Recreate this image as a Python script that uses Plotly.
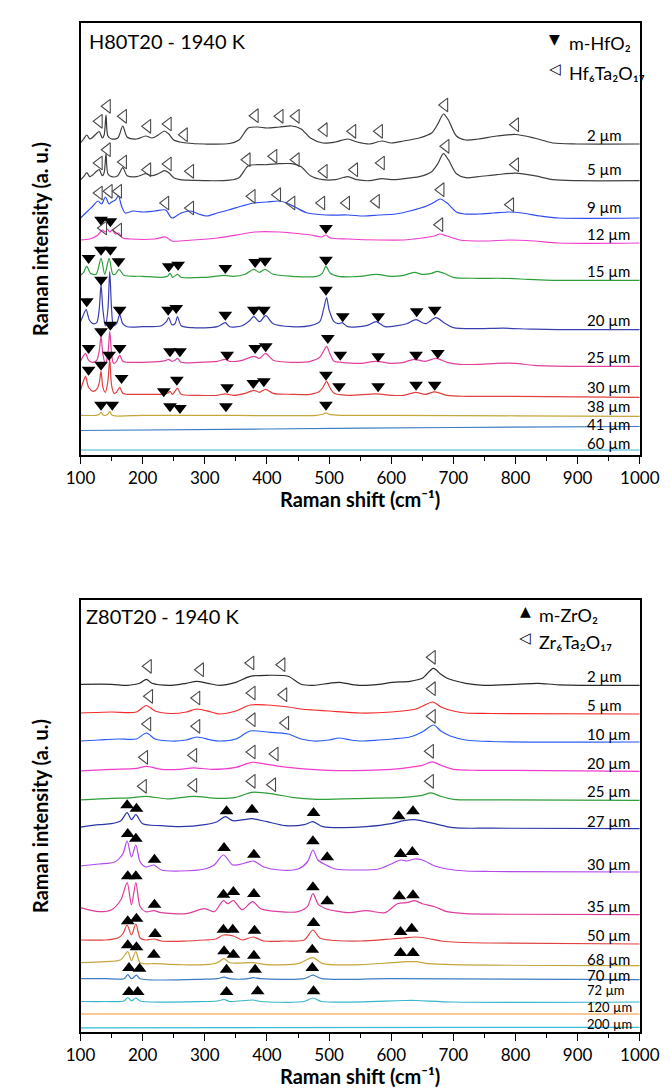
import plotly.graph_objects as go

# ================= DATA =================
# Intensities are given as height above each spectrum's own (right-end) baseline;
# each spectrum is then shifted by its stacking offset (a. u.).

# ---------- Top panel : H80T20 - 1940 K ----------
H_names = ["2 µm", "5 µm", "9 µm", "12 µm", "15 µm", "20 µm", "25 µm", "30 µm", "38 µm", "41 µm", "60 µm"]
H_offsets = [311, 274.3, 237, 212, 174.7, 125.3, 88.7, 57.7, 38.7, 28, 5]

H_2 = [(100,1),(105,5),(110,9),(115,5),(120,7),(125,10),(130,12.5),(135,6),(138,9),(141,29),(144,8),(150,5),
       (160,6),(168,18),(175,7),(190,5),(205,8),(215,6),(225,9),(235,13),(242,10),(250,4),(260,2),(270,1),
       (300,0),(340,0.5),(355,4),(370,16),(385,17),(400,16),(420,17),(440,18),(455,15),(470,6),(490,1),
       (510,2),(530,5),(545,2),(565,0),(585,3),(600,1),(620,3),(645,6),(665,11),(675,20),(684,30),(692,24),
       (705,8),(720,4),(740,5),(770,8),(800,9.5),(830,6),(860,1),(900,0),(1000,0)]
H_5 = [(100,1),(105,4),(110,8),(115,4),(120,6),(125,9),(130,11),(135,5),(138,8),(141,27),(144,7),(150,4),
       (160,5),(168,13),(175,5),(190,4),(205,7),(215,5),(225,7),(235,10),(242,8),(250,3),(260,1),(270,0.5),
       (300,0),(340,0.5),(355,3),(370,15),(385,16),(400,16),(420,17),(440,17),(455,14),(470,5),(490,1),
       (510,1),(530,4),(545,1),(565,0),(585,2),(600,1),(620,2),(645,4),(665,9),(675,17),(684,27),(692,21),
       (705,7),(720,3),(740,4),(770,6),(800,7.5),(830,5),(860,1),(900,0),(1000,0)]
H_9 = [(100,0),(110,6),(120,12),(128,17),(134,14),(140,21),(146,14),(150,16),(156,18),(161,22),(166,12),
       (172,5),(185,7),(200,6),(220,7),(237,8),(247,0),(262,5),(277,7),(290,4),(303,2),(320,5),(338,8),
       (360,12),(379,15),(400,16),(419,17),(432,15),(445,11),(465,5),(495,3),(530,3),(556,2),(580,3),
       (607,4),(630,7),(657,12),(670,16),(679,19),(690,15),(705,6),(718,4),(740,4),(765,5),(789,6),
       (810,5),(840,2),(870,0),(1000,0)]
H_12 = [(100,3),(115,4),(128,8),(135,13),(140,11),(143,14),(147,11),(151,13),(156,9),(161,10),(168,5),
        (180,4),(220,4),(237,6),(247,2),(280,3),(320,5),(360,9),(380,11),(420,11),(440,10),(470,8),(488,6),
        (495,8),(502,5),(530,4),(580,3),(620,3),(650,5),(670,7),(678,9),(690,7),(710,3),(750,2),(790,3),
        (830,2),(870,0),(1000,0)]
H_15 = [(100,5),(105,8),(110,14),(116,7),(125,6),(133,22),(139,6),(146,22),(152,6),(156,6),(162,11),
        (170,5),(200,4),(230,3),(240,4),(244,7),(248,3),(256,6),(262,3),(300,3),(333,5),(345,4),(365,6),
        (379,11),(388,8),(397,11),(410,6),(440,4),(480,4),(489,7),(495,14),(502,7),(515,4),(550,4),(576,6),
        (600,4),(620,5),(637,8),(650,6),(665,7),(674,9),(685,7),(700,3),(740,2),(780,2),(820,1),(860,0),(1000,0)]
H_20 = [(100,8),(104,14),(109,20),(114,10),(120,6),(126,7),(130,20),(133,45),(136,20),(140,4),(144,20),
        (147,58),(150,20),(153,4),(158,6),(163,15),(168,6),(175,3),(200,3),(230,4),(238,8),(242,12),(247,5),
        (252,6),(256,13),(262,4),(280,2),(320,3),(333,7),(340,3),(360,4),(372,9),(379,13),(388,8),(398,14),
        (410,6),(440,3),(470,4),(485,8),(491,20),(496,32),(500,20),(508,8),(515,6),(521,7),(530,3),(560,4),
        (576,8),(590,3),(610,4),(625,6),(640,10),(655,6),(672,12),(685,7),(700,2),(740,1),(780,1.5),(830,0.5),
        (900,0),(1000,0)]
H_25 = [(100,5),(104,10),(108,13),(113,6),(120,4),(126,6),(130,15),(133,30),(136,12),(140,3),(144,12),
        (147,35),(150,12),(153,3),(158,5),(163,11),(168,5),(175,4),(200,4),(230,5),(238,6),(242,7),(247,5),
        (252,6),(256,8),(262,4),(290,4),(320,5),(333,7),(340,5),(360,6),(379,10),(388,8),(398,13),(410,6),
        (440,4),(470,5),(485,9),(491,15),(496,20),(501,13),(508,5),(520,4),(550,3),(576,5),(600,3),(620,4),
        (637,7),(655,5),(672,8),(690,4),(710,2),(740,2),(770,3),(800,3),(830,1),(900,0),(1000,0)]
H_30 = [(100,7),(104,15),(108,21),(113,10),(120,6),(126,8),(130,14),(133,26),(136,10),(140,5),(144,16),
        (147,38),(150,12),(154,4),(158,5),(163,10),(168,4),(175,3),(200,3),(230,3),(240,4),(244,6),(248,3),
        (256,9),(262,3),(290,2),(320,2),(333,3.5),(345,2),(365,4),(379,7),(388,5),(398,8),(410,4),(440,3),
        (470,3),(485,6),(491,11),(496,16),(501,10),(508,4),(530,2),(576,3.5),(600,2),(620,2),(639,5),(655,3),
        (670,5.5),(690,2),(720,1),(800,1),(1000,0)]
H_38 = [(100,1),(125,1),(130,2),(133,4),(137,1),(144,2),(147,5),(151,1),(200,1),(300,1),(480,1),(490,2),
        (495,3.5),(500,2),(520,1),(600,1),(800,0.5),(1000,0)]
H_41 = [(100,-3.5),(400,-2),(700,-0.5),(1000,0.5)]
H_60 = [(100,0),(1000,0)]
H_curves = [H_2, H_5, H_9, H_12, H_15, H_20, H_25, H_30, H_38, H_41, H_60]

# peak assignments (x, height above baseline): m-HfO2 (filled down triangles)
H_mono_12 = [(133,23.3),(148,21.7),(495,15)]
H_mono_15 = [(113,22.3),(133,30.6),(148,30.6),(161,19),(242,14),(257,15.6),(333,12.3),(381,18.3),(397,19.6),(495,20.6)]
H_mono_20 = [(110,28.4),(133,50),(163,20),(241,20),(254,21.7),(333,15),(379,20),(395,20),(495,40),(522,13.4),
             (579,13.4),(641,18.4),(670,20)]
H_mono_25 = [(113,18.3),(133,35),(148,41.6),(163,18.3),(244,15),(260,15),(336,11.6),(381,18.3),(398,20),(498,28.3),
             (518,11.6),(579,10),(640,11.6),(675,13.3)]
H_mono_30 = [(113,27.6),(133,32.6),(146,42.6),(166,19.3),(234,6),(255,17.6),(336,10),(378,14.3),(395,16),(495,22.6),
             (516,11),(579,11),(640,12.6),(670,12.6)]
H_mono_38 = [(133,11.6),(151,11.6),(244,10),(260,8.3),(334,10),(495,11.6)]
H_mono = [[], [], [], H_mono_12, H_mono_15, H_mono_20, H_mono_25, H_mono_30, H_mono_38, [], []]
# Hf6Ta2O17 (open left triangles)
H_tri_2 = [(130,22.7),(143,37.7),(169,27.7),(208,17.7),(241,20),(267,9.3),(381,28.3),(421,27.7),(447,27.7),
           (492,14.3),(538,12.7),(581,12.7),(686,39),(800,19.3)]
H_tri_5 = [(130,17.7),(143,31),(169,18.7),(208,11),(241,16.7),(277,9.4),(368,21),(411,24.4),(447,21),(492,9.4),
           (541,11),(584,17.7),(688,34.4),(800,16)]
H_tri_9 = [(130,25),(146,26.7),(161,26.7),(237,15),(277,10),(376,21.7),(417,23.3),(440,15),(488,15),(528,15),
           (576,16.7),(680,28.3),(792,13.3)]
H_tri_12 = [(137,15),(161,13),(678,18.3)]
H_tri = [H_tri_2, H_tri_5, H_tri_9, H_tri_12, [], [], [], [], [], [], []]

# ---------- Bottom panel : Z80T20 - 1940 K ----------
Z_names = ["2 µm", "5 µm", "10 µm", "20 µm", "25 µm", "27 µm", "30 µm", "35 µm", "50 µm", "68 µm", "70 µm",
           "72 µm", "120 µm", "200 µm"]
Z_offsets = [346.7, 318, 290, 260.7, 231.7, 203.3, 160, 117.3, 88, 66.3, 52.3, 30, 18, 4.7]

Z_2 = [(100,1),(150,1),(175,0),(195,2),(206,6),(215,2),(246,0),(270,2),(287,4),(305,2),(323,0),(350,3),(373,9),
       (400,10),(434,9),(455,1),(475,0),(500,2),(516,3),(535,1),(552,0),(580,1),(602,3),(630,4),(650,7),(668,17),
       (680,11),(690,7),(720,2),(750,0),(800,1),(836,2),(870,0.5),(1000,0)]
Z_5 = [(100,1),(150,2),(190,2),(206,8.5),(220,3),(246,0.5),(270,2),(287,5),(310,2),(323,0),(350,3),(373,9),
       (400,9),(434,7),(455,5),(475,4),(500,3),(550,1),(600,2),(640,5),(667,12),(680,7),(700,3),(720,1),(760,0.5),
       (1000,0)]
Z_10 = [(100,1),(130,2),(160,3),(190,3),(206,9),(220,3),(246,1),(270,2),(287,5),(310,2),(323,1),(350,3),(373,11),
        (400,10),(434,8),(455,3),(475,1),(500,2),(516,4),(535,2),(552,1),(580,2),(602,3),(630,5),(650,10),(668,17),
        (680,11),(695,6),(720,2),(760,0.5),(1000,0)]
Z_20 = [(100,0.5),(150,2),(190,3),(206,5),(230,2),(260,2),(282,3.5),(310,2),(350,4),(376,9),(400,7),(420,5),
        (450,3),(500,1),(560,1),(600,2),(630,4),(650,6),(666,9.5),(680,6),(700,2),(740,1),(800,1),(1000,0)]
Z_25 = [(100,0.5),(150,2),(180,2.5),(205,4),(240,1.5),(282,4),(320,2),(350,3),(376,8),(413,6),(440,3),(480,1),
        (560,2),(620,3),(650,5),(664,7.5),(680,4),(700,1),(760,0.5),(1000,0)]
Z_27 = [(100,1.5),(130,4),(150,5),(165,8),(175,16),(182,9),(189,14),(200,5),(230,3),(260,2),(300,4),(320,7),
        (333,12),(345,8),(362,9),(376,10),(400,7),(430,3),(460,4),(474,7),(490,2),(520,1),(560,2),(600,5),(620,8),
        (638,9),(655,7),(670,5),(700,1),(760,0.5),(1000,0)]
Z_30 = [(100,6),(130,8),(155,10),(168,18),(175,31),(182,15),(189,27),(196,10),(205,5),(218,7),(230,2),(260,1),
        (300,3),(315,7),(330,17),(345,7),(365,9),(378,11),(395,5),(420,2),(450,3),(465,10),(474,22),(482,12),
        (495,7),(510,3),(550,2),(580,3),(600,8),(615,12),(625,11),(638,13),(650,12),(670,6),(690,3),(720,1),
        (760,0.5),(1000,0)]
Z_35 = [(100,7),(130,3),(150,5),(165,15),(175,32),(182,10),(189,32),(196,8),(205,3),(218,4),(230,2),(270,1),
        (300,6),(315,3),(330,14),(337,11),(346,14),(360,5),(377,13),(390,6),(420,3),(450,3),(465,8),(474,21),
        (483,10),(495,6),(530,2),(560,4),(590,2),(610,11),(625,12),(638,14),(650,11),(670,8),(690,3),(720,1),
        (760,0.5),(1000,0)]
Z_50 = [(100,4),(140,4),(160,6),(168,10),(175,19),(182,9),(189,20),(196,6),(205,4),(218,5),(230,3),(270,3),
        (300,4),(318,5),(330,9),(346,8),(360,4),(378,7),(395,3),(430,3),(460,4),(474,14),(485,6),(500,4),(550,3),
        (600,5),(620,6),(638,7),(655,6),(680,3),(700,2),(760,1),(1000,0)]
Z_68 = [(100,3),(140,4),(165,6),(176,14),(182,5),(189,14),(196,3),(220,2),(260,1),(300,1),(320,3),(331,7),(340,3),
        (378,3),(400,1),(450,2),(474,8),(490,2),(550,1),(600,3),(625,4),(640,4),(660,2),(700,1),(1000,0)]
Z_70 = [(100,1),(140,1),(170,1),(176,5),(182,1),(190,4.5),(196,1),(300,0.5),(320,1),(331,2.5),(340,1),(370,1),
        (378,2),(390,1),(460,1),(474,4.5),(488,1),(600,1),(1000,0)]
Z_72 = [(100,0.5),(140,0.5),(170,1),(176,4.5),(182,1),(189,4),(196,1),(300,0.5),(320,1),(331,2.5),(340,0.5),
        (378,2),(390,0.5),(460,0.5),(474,4),(488,0.5),(620,1.5),(640,1.5),(700,0),(1000,0)]
Z_120 = [(100,0),(1000,0)]
Z_200 = [(100,-0.5),(1000,0)]
Z_curves = [Z_2, Z_5, Z_10, Z_20, Z_25, Z_27, Z_30, Z_35, Z_50, Z_68, Z_70, Z_72, Z_120, Z_200]

# m-ZrO2 (filled up triangles)
Z_mono_27 = [(175,23.4),(190,20),(335,17.4),(376,19),(475,15.7),(612,12.4),(635,17.4)]
Z_mono_30 = [(176,38),(189,33.3),(219,12.3),(331,24),(379,17.3),(474,30.7),(497,14.7),(615,18),(634,20)]
Z_mono_35 = [(176,38.4),(189,38.4),(219,10),(330,20),(346,22.7),(379,20.7),(474,27.4),(497,13.4),(613,18.4),(635,19.4)]
Z_mono_50 = [(176,22.7),(190,25.3),(220,10),(330,14.3),(345,14.3),(380,13.3),(475,21),(615,12),(633,15.3)]
Z_mono_68 = [(176,20.4),(190,18.4),(218,11),(331,14.4),(346,11),(379,10),(473,16),(615,12.7),(635,12.7)]
Z_mono_70 = [(178,11.7),(195,11),(335,10),(381,10),(473,11.7)]
Z_mono_72 = [(178,10),(192,10),(335,10),(385,10.7),(475,10.7)]
Z_mono = [[], [], [], [], [], Z_mono_27, Z_mono_30, Z_mono_35, Z_mono_50, Z_mono_68, Z_mono_70, Z_mono_72, [], []]
# Zr6Ta2O17 (open left triangles)
Z_tri_2 = [(209,19),(293,15.6),(374,22.3),(424,20.6),(666,28)]
Z_tri_5 = [(211,17.7),(287,16),(376,21),(427,19.3),(666,25.3)]
Z_tri_10 = [(208,18),(287,15.7),(376,22.3),(430,19),(666,25.7)]
Z_tri_20 = [(203,14),(282,16),(376,19.3),(413,17.3),(663,20)]
Z_tri_25 = [(201,14),(282,15),(376,19),(409,15.6),(663,19)]
Z_tri = [Z_tri_2, Z_tri_5, Z_tri_10, Z_tri_20, Z_tri_25, [], [], [], [], [], [], [], [], []]

x_ticks = [100, 200, 300, 400, 500, 600, 700, 800, 900, 1000]

# ================= STYLE =================
H_colors = ["#3a3a3a", "#404040", "#2f4cf0", "#f03ccc", "#2e9e3a", "#3a3fb0", "#e0409c", "#e04040",
            "#c4a63a", "#3c7cc4", "#34b6cc"]
Z_colors = ["#2a2a2a", "#f52a2a", "#2a5cf5", "#f03ccc", "#2e9e3a", "#2a36a8", "#b448ec", "#dc3c9c",
            "#e04040", "#c4a63a", "#3c7cc4", "#34b6cc", "#f0962a", "#34bcd8"]
H_label_y = [320.3, 286, 248, 221, 184.3, 135.3, 97.7, 67.7, 49.5, 31.5, 12]
Z_label_y = [355.7, 327.3, 298, 269, 241.3, 211.3, 168, 126.3, 97.3, 73.3, 57.3, 42.5, 25.5, 8.5]
Z_label_size = [15] * 11 + [13, 13, 13]
LABEL_X = 912
FONT = "Lato, 'Open Sans', sans-serif"
SYM_FONT = "DejaVu Sans"

fig = go.Figure()


def add_panel(curves, offsets, colors, mono, tri, mono_symbol, xa, ya):
    for curve, off, col in zip(curves, offsets, colors):
        fig.add_trace(go.Scatter(
            x=[p[0] for p in curve], y=[off + p[1] for p in curve], mode="lines",
            line=dict(color=col, width=1.2, shape="spline", smoothing=0.8),
            xaxis=xa, yaxis=ya, showlegend=False, hoverinfo="skip"))
    for pts, off in zip(mono, offsets):
        if pts:
            fig.add_trace(go.Scatter(
                x=[p[0] for p in pts], y=[off + p[1] for p in pts], mode="markers",
                marker=dict(symbol=mono_symbol, size=12, color="black", line=dict(width=0)),
                xaxis=xa, yaxis=ya, showlegend=False, hoverinfo="skip"))
    for pts, off in zip(tri, offsets):
        if pts:
            fig.add_trace(go.Scatter(
                x=[p[0] for p in pts], y=[off + p[1] for p in pts], mode="markers",
                marker=dict(symbol="triangle-left-open", size=12, color="#4a4a4a", line=dict(width=1.1)),
                xaxis=xa, yaxis=ya, showlegend=False, hoverinfo="skip"))


add_panel(H_curves, H_offsets, H_colors, H_mono, H_tri, "triangle-down", "x", "y")
add_panel(Z_curves, Z_offsets, Z_colors, Z_mono, Z_tri, "triangle-up", "x2", "y2")

annotations = []
for name, ly in zip(H_names, H_label_y):
    annotations.append(dict(x=LABEL_X, y=ly, xref="x", yref="y", text=name, showarrow=False,
                            xanchor="left", yanchor="middle", font=dict(family=FONT, size=15, color="black")))
for name, ly, sz in zip(Z_names, Z_label_y, Z_label_size):
    annotations.append(dict(x=LABEL_X, y=ly, xref="x2", yref="y2", text=name, showarrow=False,
                            xanchor="left", yanchor="middle", font=dict(family=FONT, size=sz, color="black")))

W, H = 671, 1089


def px(xp, yp):
    return xp / W, 1 - yp / H


def text_ann(xp, yp, text, size, anchor="left", bold=False, angle=0, family=FONT):
    x, y = px(xp, yp)
    return dict(x=x, y=y, xref="paper", yref="paper", text=text, showarrow=False, textangle=angle,
                xanchor=anchor, yanchor="middle",
                font=dict(family=family, size=size, color="black", weight="bold" if bold else "normal"))


annotations += [
    text_ann(67, 33, "H80T20 - 1940 K", 20),
    text_ann(561, 31, "▼", 14, "center", family=SYM_FONT),
    text_ann(574, 35, "m-HfO₂", 18),
    text_ann(561, 61, "◁", 15, "center", family=SYM_FONT),
    text_ann(574, 65, "Hf₆Ta₂O₁₇", 18),
    text_ann(64, 608, "Z80T20 - 1940 K", 20),
    text_ann(530, 603, "▲", 14, "center", family=SYM_FONT),
    text_ann(542, 607, "m-ZrO₂", 18),
    text_ann(530, 630, "◁", 15, "center", family=SYM_FONT),
    text_ann(542, 634, "Zr₆Ta₂O₁₇", 18),
    text_ann(356, 491, "Raman shift (cm⁻¹)", 20, "center", bold=True),
    text_ann(356, 1068, "Raman shift (cm⁻¹)", 20, "center", bold=True),
    text_ann(18, 231, "Raman intensity (a. u.)", 20, "center", bold=True, angle=-90),
    text_ann(18, 808, "Raman intensity (a. u.)", 20, "center", bold=True, angle=-90),
]

xdom = [60.7 / W, 650.7 / W]
top_dom = [1 - 447 / H, 1 - 15 / H]
bot_dom = [1 - 1024 / H, 1 - 592 / H]

xaxis_style = dict(range=[100, 1000], tickvals=x_ticks, ticks="outside", ticklen=7, tickwidth=1.4,
                   tickcolor="black", showline=True, linecolor="black", linewidth=1.6, mirror=True,
                   showgrid=False, zeroline=False, domain=xdom,
                   tickfont=dict(family=FONT, size=17, color="black"),
                   minor=dict(tickvals=[150, 250, 350, 450, 550, 650, 750, 850, 950], ticks="outside",
                              ticklen=4, tickwidth=1.2, tickcolor="black", showgrid=False))
yaxis_style = dict(range=[0, 432], showticklabels=False, ticks="", showline=True, linecolor="black",
                   linewidth=1.6, mirror=True, showgrid=False, zeroline=False)

fig.update_layout(
    width=W, height=H, margin=dict(l=0, r=0, t=0, b=0),
    paper_bgcolor="white", plot_bgcolor="white", showlegend=False,
    xaxis=dict(**xaxis_style, anchor="y"),
    yaxis=dict(**yaxis_style, domain=top_dom, anchor="x"),
    xaxis2=dict(**xaxis_style, anchor="y2"),
    yaxis2=dict(**yaxis_style, domain=bot_dom, anchor="x2"),
    annotations=annotations,
)

fig.write_html("out.html")
